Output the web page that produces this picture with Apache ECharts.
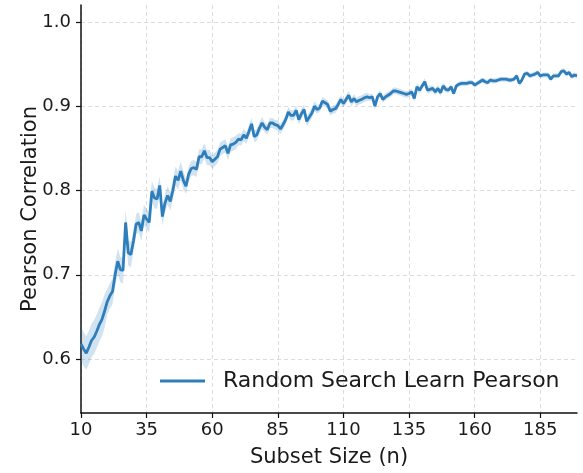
<!DOCTYPE html>
<html>
<head>
<meta charset="utf-8">
<script src="https://cdn.jsdelivr.net/npm/echarts@6/dist/echarts.min.js"></script>
<style>
  html, body { margin: 0; padding: 0; background: #fff; }
  #chart { width: 583px; height: 473px; }
</style>
</head>
<body>
<div id="chart"></div>
<script>
// subset sizes 10..199
var subsetSizes = [];
for (var n = 10; n <= 199; n++) subsetSizes.push(n);

// mean pearson correlation
var pearsonMean = [
  0.618, 0.612, 0.607, 0.614, 0.622, 0.626, 0.633, 0.641, 0.647, 0.657,
  0.668, 0.675, 0.680, 0.700, 0.716, 0.706, 0.705, 0.762, 0.726, 0.724,
  0.740, 0.760, 0.762, 0.752, 0.771, 0.766, 0.762, 0.799, 0.791, 0.790,
  0.806, 0.769, 0.785, 0.794, 0.787, 0.800, 0.817, 0.812, 0.823, 0.812,
  0.805, 0.819, 0.826, 0.827, 0.825, 0.840, 0.840, 0.847, 0.839, 0.839,
  0.834, 0.837, 0.840, 0.849, 0.851, 0.853, 0.844, 0.854, 0.855, 0.857,
  0.861, 0.860, 0.866, 0.862, 0.870, 0.879, 0.864, 0.866, 0.874, 0.880,
  0.875, 0.872, 0.880, 0.880, 0.878, 0.877, 0.873, 0.878, 0.884, 0.893,
  0.889, 0.889, 0.895, 0.884, 0.891, 0.896, 0.882, 0.887, 0.892, 0.900,
  0.896, 0.898, 0.906, 0.904, 0.902, 0.894, 0.896, 0.897, 0.902, 0.908,
  0.903, 0.908, 0.913, 0.905, 0.909, 0.905, 0.907, 0.908, 0.910, 0.911,
  0.910, 0.911, 0.900, 0.911, 0.915, 0.908, 0.911, 0.913, 0.915, 0.918,
  0.918, 0.917, 0.916, 0.915, 0.914, 0.915, 0.917, 0.909, 0.923, 0.919,
  0.924, 0.929, 0.919, 0.920, 0.921, 0.917, 0.921, 0.916, 0.924, 0.920,
  0.919, 0.923, 0.915, 0.924, 0.926, 0.927, 0.927, 0.927, 0.928, 0.928,
  0.925, 0.927, 0.929, 0.931, 0.929, 0.928, 0.931, 0.930, 0.930, 0.931,
  0.932, 0.932, 0.932, 0.931, 0.931, 0.932, 0.936, 0.927, 0.931, 0.938,
  0.939, 0.936, 0.937, 0.938, 0.940, 0.936, 0.937, 0.937, 0.937, 0.932,
  0.936, 0.936, 0.936, 0.941, 0.942, 0.938, 0.940, 0.935, 0.937, 0.936
];

// half width of the shaded band, one value per block of ten sizes (10-19, 20-29, ...)
var bandSpread = [0.020, 0.015, 0.012, 0.011, 0.009, 0.008, 0.007, 0.006, 0.006, 0.005,
                  0.005, 0.004, 0.004, 0.004, 0.003, 0.003, 0.003, 0.003, 0.003];

var xTicks = [10, 35, 60, 85, 110, 135, 160, 185];
var yTicks = [0.6, 0.7, 0.8, 0.9, 1.0];

var lineColor = '#2e7ebc';

var meanData = [], bandData = [];
subsetSizes.forEach(function (n, i) {
  var s = bandSpread[Math.floor((n - 10) / 10)];
  meanData.push([n, pearsonMean[i]]);
  bandData.push([n, pearsonMean[i] - s, pearsonMean[i] + s]);
});

var chart = echarts.init(document.getElementById('chart'));
var font = 'DejaVu Sans';

// band drawn as one polygon, points placed via the axes
function renderBand(params, api) {
  if (params.dataIndex !== 0) return;
  var upper = [], lower = [];
  bandData.forEach(function (d) {
    upper.push(api.coord([d[0], d[2]]));
    lower.push(api.coord([d[0], d[1]]));
  });
  var pts = upper.concat(lower.reverse());
  return {
    type: 'polygon',
    shape: { points: pts },
    style: { fill: lineColor, opacity: 0.22 },
    silent: true
  };
}

chart.setOption({
  animation: false,
  textStyle: { fontFamily: font },
  grid: { left: 81, right: 6, top: 5, bottom: 59 },
  legend: {
    data: ['Random Search Learn Pearson'],
    left: 160,
    top: 370,
    padding: 0,
    icon: 'rect',
    itemWidth: 45,
    itemHeight: 3,
    textStyle: { fontFamily: font, fontSize: 22, color: '#1a1a1a', padding: [0, 0, 0, 13] }
  },
  xAxis: {
    type: 'value',
    min: 10,
    max: 199,
    name: 'Subset Size (n)',
    nameLocation: 'middle',
    nameGap: 34,
    nameTextStyle: { fontFamily: font, fontSize: 21, color: '#1a1a1a' },
    axisLine: { show: true, onZero: false, lineStyle: { color: '#111', width: 1.5 } },
    axisTick: { show: true, length: 5, customValues: xTicks, lineStyle: { color: '#111', width: 1.2 } },
    axisLabel: { customValues: xTicks, fontFamily: font, fontSize: 18, color: '#1a1a1a', margin: 8 },
    splitLine: { show: true, lineStyle: { color: '#dcdcdc', type: [4, 3], width: 1 } }
  },
  yAxis: {
    type: 'value',
    min: 0.536,
    max: 1.02,
    name: 'Pearson Correlation',
    nameLocation: 'middle',
    nameGap: 40,
    nameMoveOverlap: false,
    nameTextStyle: { fontFamily: font, fontSize: 21, color: '#1a1a1a' },
    axisLine: { show: true, lineStyle: { color: '#111', width: 1.5 } },
    axisTick: { show: true, length: 5, customValues: yTicks, lineStyle: { color: '#111', width: 1.2 } },
    axisLabel: {
      customValues: yTicks, fontFamily: font, fontSize: 18, color: '#1a1a1a', margin: 10,
      formatter: function (v) { return v.toFixed(1); }
    },
    splitLine: { show: true, lineStyle: { color: '#dcdcdc', type: [4, 3], width: 1 } }
  },
  series: [
    {
      name: 'band',
      type: 'custom',
      renderItem: renderBand,
      data: bandData,
      encode: { x: 0, y: [1, 2] },
      silent: true,
      z: 1
    },
    {
      name: 'Random Search Learn Pearson',
      type: 'line',
      data: meanData,
      symbol: 'none',
      itemStyle: { color: lineColor },
      lineStyle: { color: lineColor, width: 2.8 },
      z: 2
    }
  ]
});
</script>
</body>
</html>
